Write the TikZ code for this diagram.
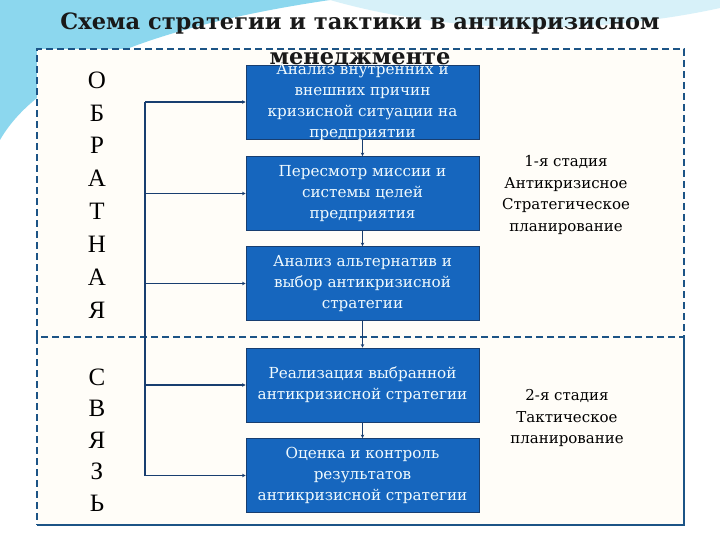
\documentclass[tikz,border=0pt]{standalone}
\usepackage{fontspec}
\setmainfont{Liberation Serif}
\newfontfamily\boxfont{DejaVu Serif}
\usetikzlibrary{arrows.meta, positioning, calc}
\definecolor{stageblue}{RGB}{22,102,190}
\definecolor{linkblue}{RGB}{24,62,112}
\definecolor{framecol}{RGB}{28,84,134}
\definecolor{swoosh}{RGB}{140,215,238}
\definecolor{paper}{RGB}{255,253,248}
\tikzset{
  stage/.style={rectangle, draw=linkblue, line width=0.8pt, fill=stageblue,
                minimum width=233pt, minimum height=74pt, inner sep=0pt},
  stagetext/.style={text=white!94!cyan, align=center, inner sep=0pt,
                    font=\boxfont\fontsize{15.2}{21}\selectfont},
  arr/.style={-{Stealth[length=3.5pt,width=3.5pt]}, linkblue, line width=1.2pt},
  link/.style={linkblue, line width=1.2pt},
  letter/.style={font=\fontsize{25}{25}\selectfont},
  phase/.style={align=center, font=\boxfont\fontsize{15}{21.5}\selectfont},
  frame/.style={draw=framecol, line width=1.4pt, dash pattern=on 7pt off 4pt},
}

\begin{document}
\begin{tikzpicture}[x=1pt, y=-1pt]
  \useasboundingbox (0,0) rectangle (720,540);
  % background
  \fill[white] (0,0) rectangle (720,540);
  \fill[swoosh!35] (330,0) .. controls (470,40) and (620,30) .. (720,8) -- (720,0) -- cycle;
  \fill[swoosh] (0,0) -- (0,140) .. controls (40,70) and (160,25) .. (330,0) -- cycle;
  \fill[paper] (37,49) rectangle (684,525);

  % frame
  \draw[frame] (37,337) -- (37,49) -- (684,49) -- (684,337) -- cycle;
  \draw[frame] (37,337) -- (37,525);
  \draw[framecol, line width=1.4pt] (37,525) -- (684,525) -- (684,337);

  % title
  \node[font=\boxfont\fontsize{22.5}{35}\selectfont\bfseries, align=center, text=black!90]
    (title) at (360,40) {Схема стратегии и тактики в антикризисном\\менеджменте};

  % stages
  \node[stage, label={[stagetext]center:Анализ внутренних и\\внешних причин\\кризисной ситуации на\\предприятии}]
    (causes) at (362.5,102) {};
  \node[stage, label={[stagetext]center:Пересмотр миссии и\\системы целей\\предприятия}]
    (mission) at (362.5,193.5) {};
  \node[stage, label={[stagetext]center:Анализ альтернатив и\\выбор антикризисной\\стратегии}]
    (choice) at (362.5,283.5) {};
  \node[stage, label={[stagetext]center:Реализация выбранной\\антикризисной стратегии}]
    (realize) at (362.5,385) {};
  \node[stage, label={[stagetext]center:Оценка и контроль\\результатов\\антикризисной стратегии}]
    (control) at (362.5,475.5) {};

  \draw[arr] (causes) -- (mission);
  \draw[arr] (mission) -- (choice);
  \draw[arr] (choice) -- (realize);
  \draw[arr] (realize) -- (control);

  % feedback bus
  \coordinate (bustop) at (145,102);
  \coordinate (busbot) at (145,475.5);
  \draw[link] (bustop) -- (busbot);
  \foreach \s in {causes, mission, choice, realize, control}
    \draw[arr] (bustop |- \s.west) -- (\s.west);

  % vertical word
  \foreach \l [count=\i from 0] in {О,Б,Р,А,Т,Н,А,Я}
    \node[letter] (up\i) at (97,80+32.9*\i) {\l};
  \foreach \l [count=\i from 0] in {С,В,Я,З,Ь}
    \node[letter] (low\i) at (97,377+31.5*\i) {\l};

  % phases
  \node[phase] (strat) at (566,195) {1-я стадия\\Антикризисное\\Стратегическое\\планирование};
  \node[phase] (tact) at (567,418) {2-я стадия\\Тактическое\\планирование};
\end{tikzpicture}
\end{document}
